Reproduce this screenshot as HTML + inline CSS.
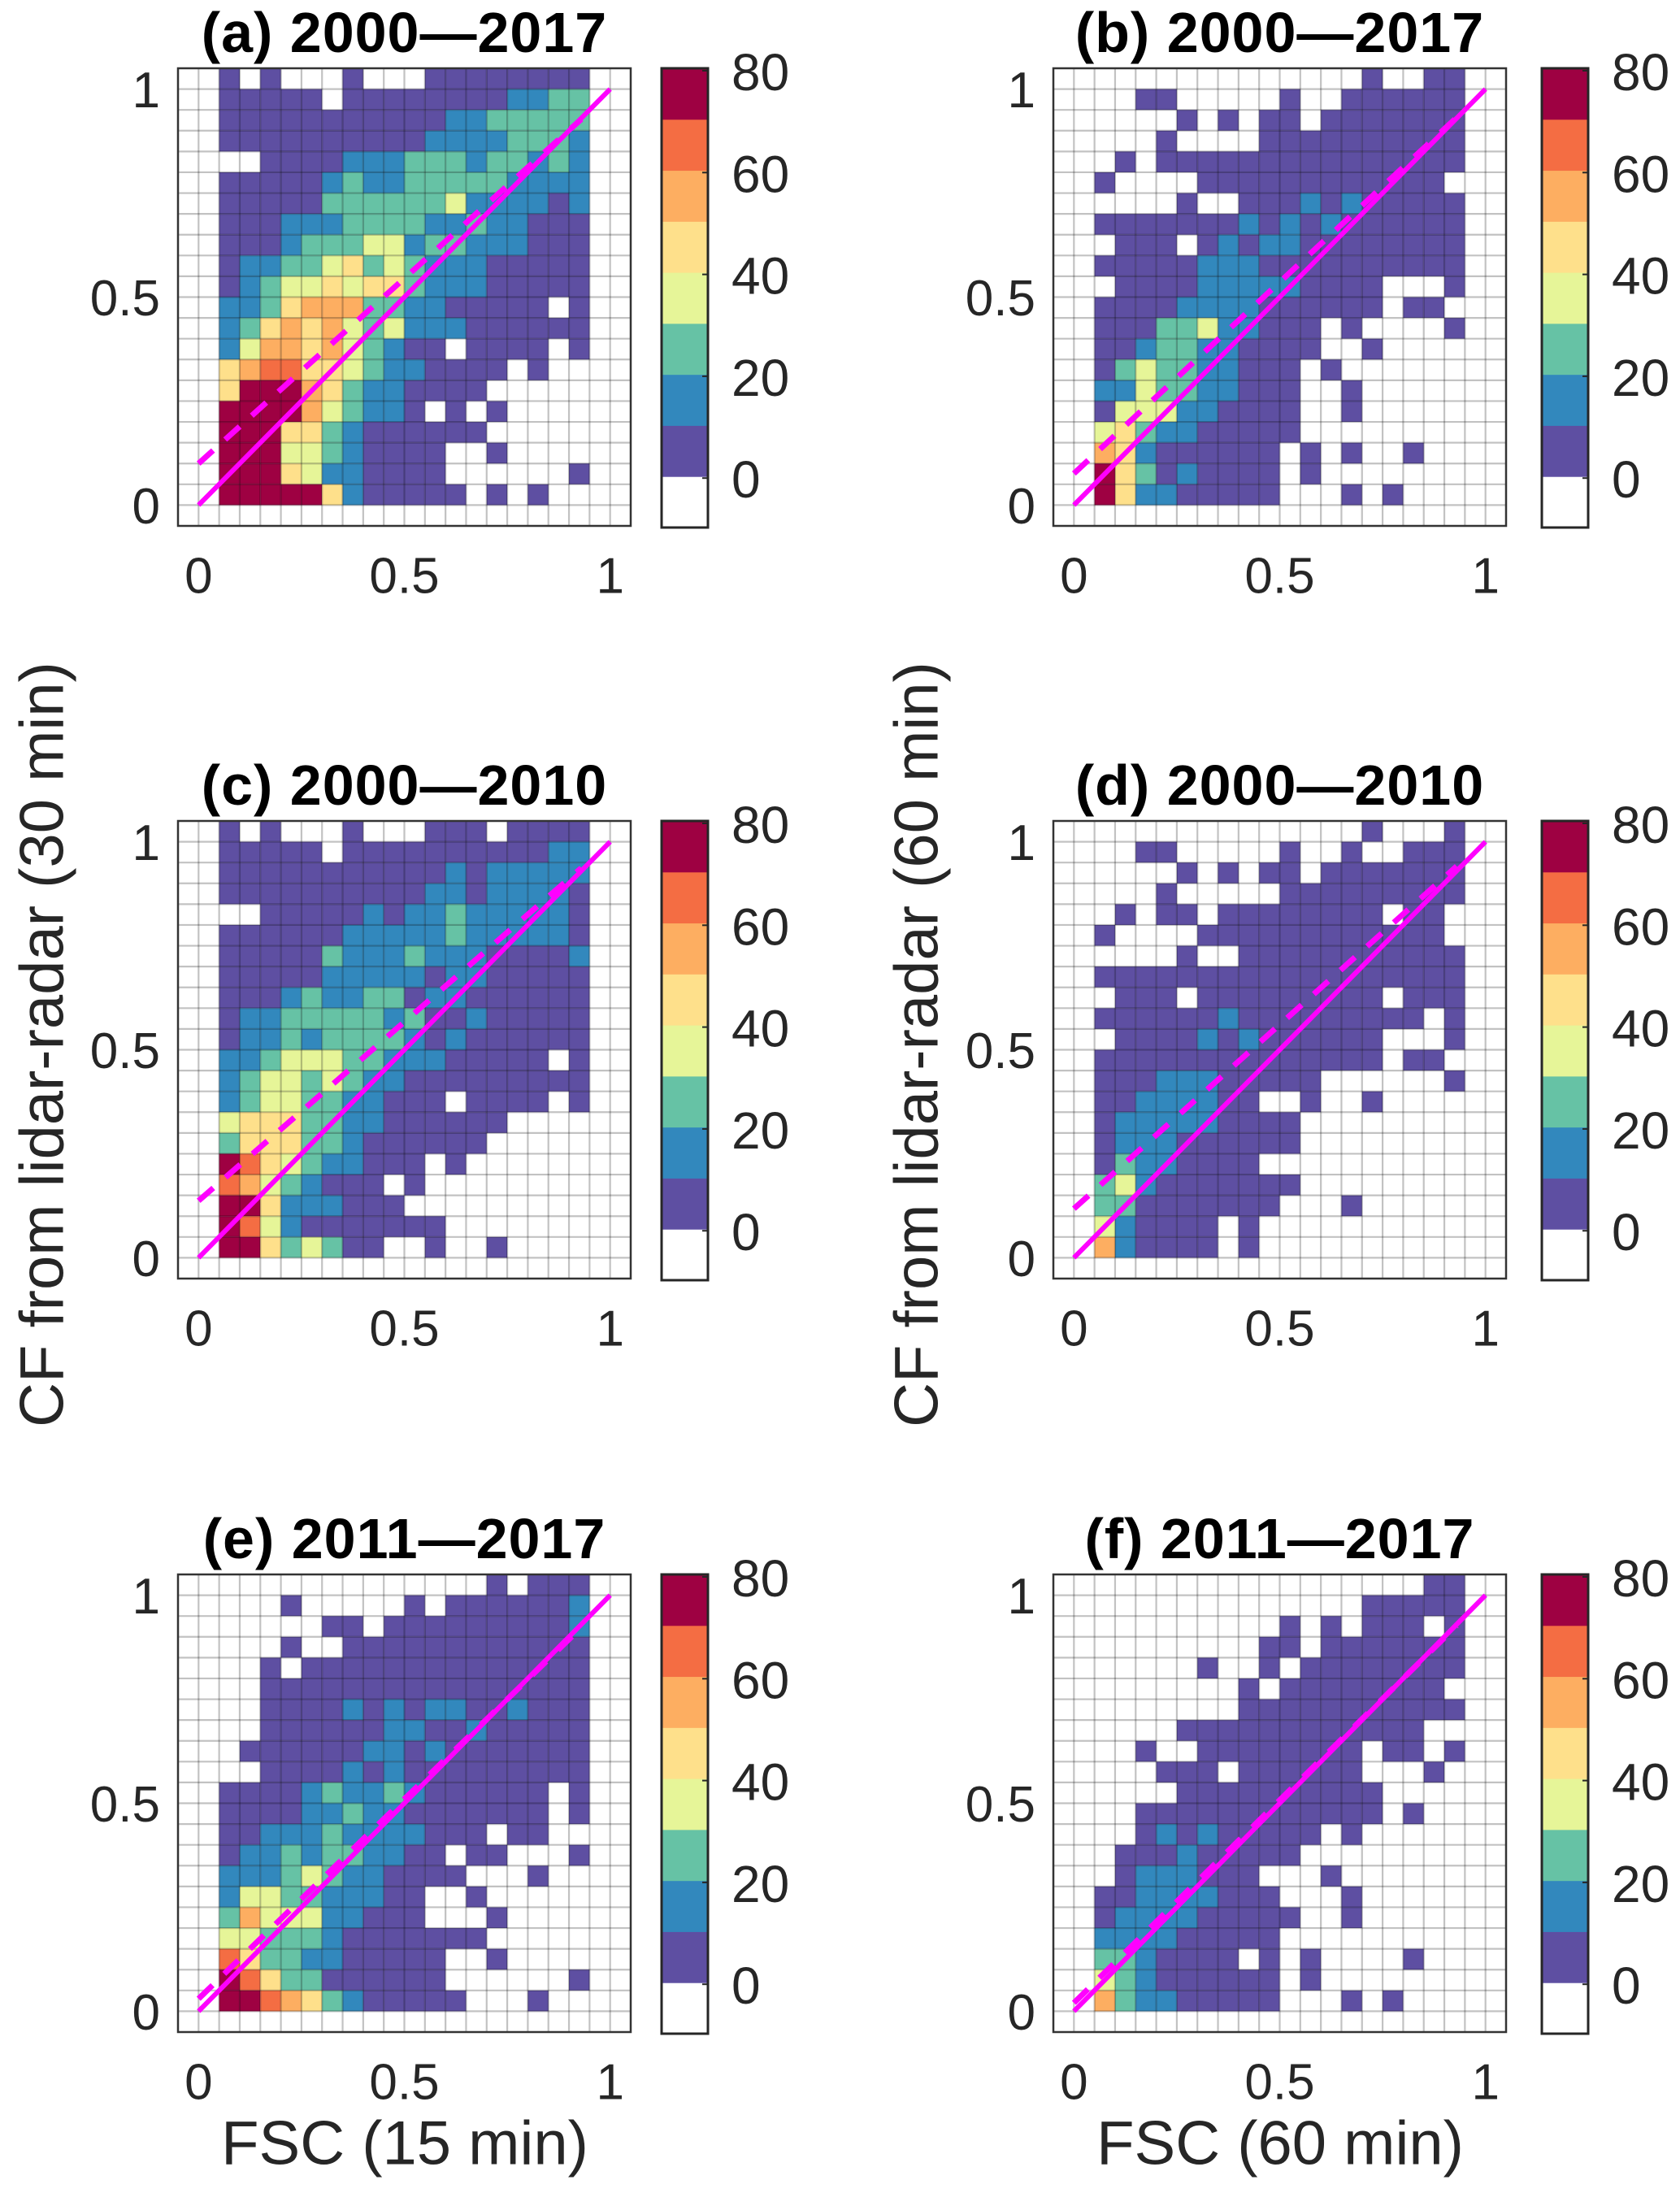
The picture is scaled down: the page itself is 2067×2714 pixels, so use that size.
<!DOCTYPE html>
<html><head><meta charset="utf-8"><style>
html,body{margin:0;padding:0;background:#fff;}
svg{display:block;}
text{font-family:"Liberation Sans",sans-serif;fill:#262626;}
</style></head><body>
<svg id="fig" width="2067" height="2714" viewBox="0 0 2067 2714" xmlns="http://www.w3.org/2000/svg"></svg>
<script>
// ---- data: per-panel colour-class grids (row 0 = top bin), class k => count (k-1)*10+5 ----
const panelIds = ['a','b','c','d','e','f'];
const panelTitles = ['(a) 2000\u20142017','(b) 2000\u20142017','(c) 2000\u20142010','(d)  2000\u20142010','(e)  2011\u20142017','(f) 2011\u20142017'];
const gridA = ["0010100010001111111100","0011111011111111223300","0011111111111223333300","0011111111112222333200","0000111122233323323200","0011111232233333222200","0011111333333422221200","0011122233332232211100","0011123334423322211100","0012233453432221111100","0012344545532221111100","0022356663322111110100","0023565643422211111100","0024665643211011110100","0056775543221111010000","0058886532211110000000","0088886432210101000000","0088855321111110000000","0088844321111001000000","0088854221111000000100","0088888521111101010000","0000000000000000000000"];
const gridB = ["0000000000000001001100","0000110000010011111100","0000001010110111111100","0000010000111111111100","0001011111111111111100","0010000111111111111000","0000001001112121111100","0011111112121211111100","0001110121221111111100","0011111222111111111100","0001111222221111000100","0011112222111111011000","0011133422111010000100","0011233221111001000000","0013433221110100000000","0022433221110010000000","0014442211110010000000","0045322111110000000000","0065211111101010010000","0085312111101000000000","0085221111100010100000","0000000000000000000000"];
const gridC = ["0010100010001110111100","0011111011111111112200","0011111111111212222200","0011111111112212222100","0000111112122322222100","0011111122222322222100","0011111322232221111200","0011111222221221111100","0011123223312211111100","0012233333231121111100","0012232333321211111100","0022344433222111110100","0023443432211111111100","0023443322111011110100","0045553322111111000000","0035553321111110000000","0087543221110100000000","0076432111010000000000","0088522211100000000000","0087421111111000000000","0088534311001001000000","0000000000000000000000"];
const gridD = ["0000000000000001000100","0000110000010010011100","0000001010110111111100","0000010000011111111100","0001011011111111011000","0010000111111111111000","0000001001111111111100","0011111111111111111100","0001110111111111011100","0011111121111111110100","0001111212111111000100","0011111111111111011000","0011122211111000000100","0011222211001001000000","0012222211110000000000","0012221111110000000000","0013221111000000000000","0034211111110000000000","0033111111100010000000","0042111101000000000000","0062111101000000000000","0000000000000000000000"];
const gridE = ["0000000000000001011100","0000010000010111111200","0000000110111111111200","0000010011111111111100","0000101111111111111100","0000111111111111111100","0000111121212211211100","0000111111221121111100","0001111112212111111100","0000111121211111111100","0011112322321111110100","0011112232211111110100","0011222322221110110000","0012232332211011000100","0022234322111100010000","0024433222110010000000","0036444221110001000000","0044333211111110000000","0075332211111001000000","0087533111111000000100","0088765321111100010000","0000000000000000000000"];
const gridF = ["0000000000000000001100","0000000000000001111100","0000000000010101110100","0000000000110111111100","0000000100101111111100","0000000001011111111000","0000000001111111111100","0000001111111111110000","0000100111111110110100","0000011101111110001000","0000001111111111000000","0000111111111111010000","0000121211111010000000","0001112111110000000000","0001222111000100000000","0011222211100010000000","0012222111110010000000","0022221111100000000000","0033211110101000010000","0043211111101000000000","0063221111100010100000","0000000000000000000000"];
const grids = [gridA,gridB,gridC,gridD,gridE,gridF];
// fit lines: dashed regression (intercept, slope); solid 1:1
const dashIntercept = [0.10,0.076,0.137,0.118,0.03,0.02];
const dashSlope = [0.89,0.92,0.86,0.885,0.96,0.975];
const solidIntercept = [0,0,0,0,0,0];
const solidSlope = [1,1,1,1,1,1];
const axisTicks = [0,0.5,1];
const axisTickLabels = ['0','0.5','1'];
const cbTicks = [0,20,40,60,80];
const cbColors = ['#ffffff','#5E4FA2','#3288BD','#66C2A5','#E6F598','#FEE08B','#FDAE61','#F46D43','#9E0142'];

const NS='http://www.w3.org/2000/svg';
const svg=document.getElementById('fig');
function mk(tag,attrs,parent){const e=document.createElementNS(NS,tag);for(const k in attrs)e.setAttribute(k,attrs[k]);(parent||svg).appendChild(e);return e;}

const lefts=[219,1296], tops=[84,1010,1937], W=557, H=563;
const cbL=[814,1897], cbW=57;

panelIds.forEach((pid,i)=>{
  const col=i%2,row=Math.floor(i/2);
  const L=lefts[col],T=tops[row];
  const xs=v=>L+(v+0.05)/1.1*W;
  const ys=v=>T+(1.05-v)/1.1*H;
  const g=mk('g',{});
  
  
  const grid=grids[i];
  grid.forEach((rs,r)=>{
    for(let c=0;c<rs.length;c++){
      const k=+rs[c];
      const count=k===0?0:(k-1)*10+5;
      if(count<=0)continue;
      const band=Math.min(8,Math.floor(count/10)+1);
      const x0=xs(c*0.05-0.05),x1=xs(c*0.05);
      const yTop=ys(1.05-r*0.05),yBot=ys(1.05-(r+1)*0.05);
      const rect=mk('rect',{x:x0,y:yTop,width:x1-x0,height:yBot-yTop,fill:cbColors[band]},g);
      
      
    }
  });
  for(let n=1;n<22;n++){
    const v=n*0.05-0.05;
    mk('line',{x1:xs(v),x2:xs(v),y1:T,y2:T+H,stroke:'rgba(0,0,0,0.24)','stroke-width':2.2},g);
    mk('line',{x1:L,x2:L+W,y1:ys(v),y2:ys(v),stroke:'rgba(0,0,0,0.24)','stroke-width':2.2},g);
  }
  const box=mk('rect',{x:L,y:T,width:W,height:H,fill:'none',stroke:'#333','stroke-width':2.5},g);
  
  
  const sl=mk('line',{x1:xs(0),y1:ys(solidIntercept[i]),x2:xs(1),y2:ys(solidIntercept[i]+solidSlope[i]),stroke:'#FF00FF','stroke-width':6},g);
  
  
  const dl=mk('line',{x1:xs(0),y1:ys(dashIntercept[i]),x2:xs(0.93),y2:ys(dashIntercept[i]+dashSlope[i]*0.93),stroke:'#FF00FF','stroke-width':7,'stroke-dasharray':'24 20'},g);
  
  
  axisTicks.forEach((v,j)=>{
    const tx=mk('text',{x:xs(v),y:T+H+62,'font-size':62,'text-anchor':'middle','dominant-baseline':'central'},g);
    tx.textContent=axisTickLabels[j];
    
    
    const ty=mk('text',{x:L-22,y:ys(v)+2,'font-size':62,'text-anchor':'end','dominant-baseline':'central'},g);
    ty.textContent=axisTickLabels[j];
    
    
  });
  const tt=mk('text',{x:L+W/2,y:T-44,'font-size':70,'font-weight':'bold','letter-spacing':1,'text-anchor':'middle','dominant-baseline':'central',style:'fill:#000'},g);
  tt.textContent=panelTitles[i];
  
  
  const cb=mk('g',{},g);
  
  
  const cx=cbL[col],ch=H+2,bh=ch/9;
  for(let b=0;b<9;b++){
    mk('rect',{x:cx,y:T+ch-(b+1)*bh,width:cbW,height:bh+0.5,fill:cbColors[b]},cb);
  }
  mk('rect',{x:cx,y:T,width:cbW,height:ch,fill:'none',stroke:'#262626','stroke-width':3},cb);
  const cy=v=>T+3+(80-v)/20*125.3;
  cbTicks.forEach(v=>{
    mk('line',{x1:cx+cbW-7,x2:cx+cbW,y1:cy(v),y2:cy(v),stroke:'#262626','stroke-width':2},cb);
    const t=mk('text',{x:cx+cbW+29,y:cy(v)+2,'font-size':64,'dominant-baseline':'central'},cb);
    t.textContent=String(v);
    
    
  });
});
function label(txt,x,y,rot,name){
  const t=mk('text',{x:x,y:y,'font-size':76,'text-anchor':'middle','dominant-baseline':'central',transform:rot?`rotate(-90 ${x} ${y})`:''});
  t.textContent=txt;
  
  
}
label('CF from lidar-radar (30 min)',52,1285,true,'y-axis-title-left');
label('CF from lidar-radar (60 min)',1128,1285,true,'y-axis-title-right');
label('FSC (15 min)',498,2637,false,'x-axis-title-left');
label('FSC (60 min)',1575,2637,false,'x-axis-title-right');
</script>
</body></html>
